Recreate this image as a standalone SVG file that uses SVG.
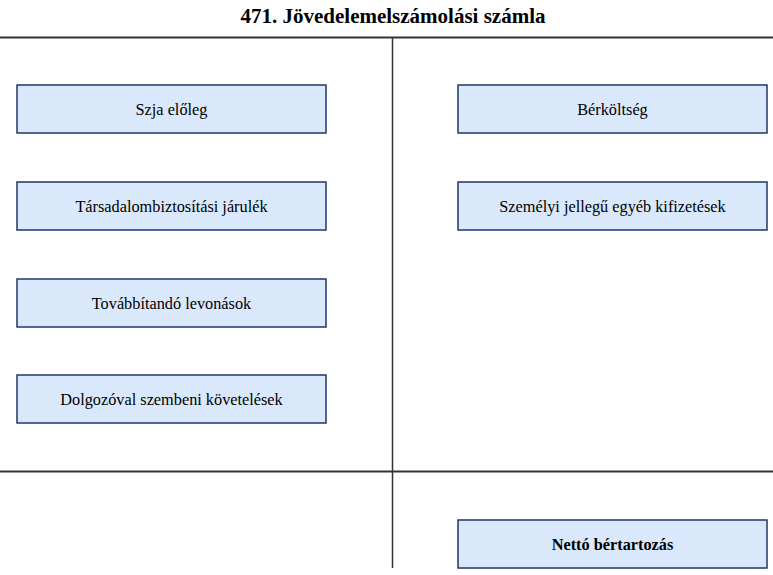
<svg xmlns="http://www.w3.org/2000/svg" width="773" height="575" viewBox="0 0 773 575">
<style>
.box{fill:#dae8fc;stroke:#1f3864;stroke-width:1.5}
.t{font-family:"Liberation Serif","Times New Roman",serif;font-size:16.3px;fill:#000;text-anchor:middle;dominant-baseline:central}
.b{font-weight:bold}
.ln{stroke:#333;fill:none}
</style>
<rect width="773" height="575" fill="#fff"/>
<text x="393" y="16" class="t b" style="font-size:21px">471. Jövedelemelszámolási számla</text>
<g id="connectors">
<line class="ln" x1="0" y1="37.5" x2="773" y2="37.5" stroke-width="2"/>
<line class="ln" x1="0" y1="471.5" x2="773" y2="471.5" stroke-width="2"/>
<line class="ln" x1="392.5" y1="37" x2="392.5" y2="568" stroke-width="1.5"/>
</g>
<g id="n1"><rect class="box" x="17" y="85" width="309" height="48"/><text class="t" x="171.5" y="109">Szja előleg</text></g>
<g id="n2"><rect class="box" x="17" y="182" width="309" height="48"/><text class="t" x="171.5" y="206">Társadalombiztosítási járulék</text></g>
<g id="n3"><rect class="box" x="17" y="279" width="309" height="48"/><text class="t" x="171.5" y="303">Továbbítandó levonások</text></g>
<g id="n4"><rect class="box" x="17" y="375" width="309" height="48"/><text class="t" x="171.5" y="399">Dolgozóval szembeni követelések</text></g>
<g id="n5"><rect class="box" x="458" y="85" width="309" height="48"/><text class="t" x="612.5" y="109">Bérköltség</text></g>
<g id="n6"><rect class="box" x="458" y="182" width="309" height="48"/><text class="t" x="612.5" y="206">Személyi jellegű egyéb kifizetések</text></g>
<g id="n7"><rect class="box" x="458" y="520" width="309" height="48"/><text class="t b" x="612.5" y="544">Nettó bértartozás</text></g>
</svg>
